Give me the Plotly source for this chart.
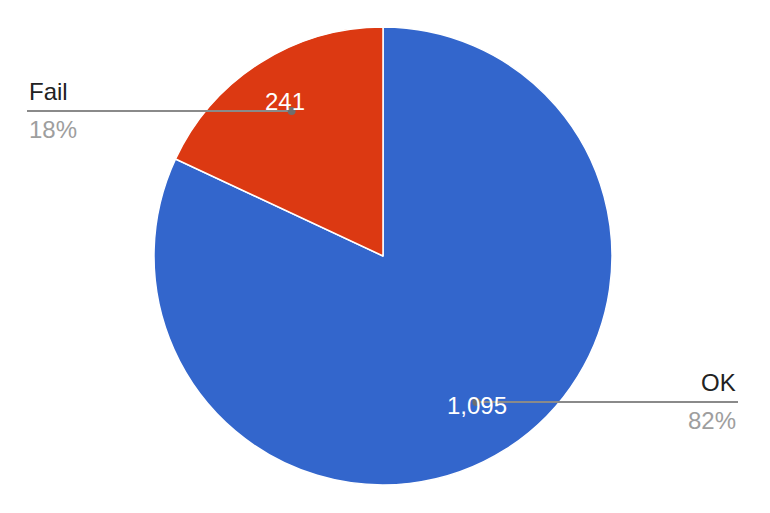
import math
import plotly.graph_objects as go

labels = ["OK", "Fail"]
values = [1095, 241]
colors = ["#3366CC", "#DC3912"]

W, H = 770, 513
cx, cy, r = 383, 256, 229

fig = go.Figure(go.Pie(
    labels=labels, values=values, sort=False, direction="clockwise",
    marker=dict(colors=colors, line=dict(color="white", width=1.5)),
    textinfo="none", hoverinfo="label+value+percent",
    domain=dict(x=[(cx - r) / W, (cx + r) / W], y=[1 - (cy + r) / H, 1 - (cy - r) / H]),
))

total = sum(values)
# leader line y (px), side of the outer label, and inner text nudge (px)
line_y = {"OK": 402, "Fail": 111}
side = {"OK": "right", "Fail": "left"}
nudge = {"OK": (-4, -5), "Fail": (0, 0)}

start = 0.0
annotations, shapes = [], []
for lab, val in zip(labels, values):
    frac = val / total
    mid = (start + frac / 2) * 2 * math.pi  # clockwise from 12 o'clock
    start += frac
    ax = cx + 0.8 * r * math.sin(mid)
    ay = cy - 0.8 * r * math.cos(mid)
    ly = line_y[lab]
    dot_x = ax + (7 if lab == "Fail" else -5)
    edge = 27 if side[lab] == "left" else 738
    shapes.append(dict(type="line", xref="paper", yref="paper",
                       x0=dot_x / W, x1=edge / W, y0=1 - ly / H, y1=1 - ly / H,
                       line=dict(color="#8a8a8a", width=2)))
    shapes.append(dict(type="circle", xref="paper", yref="paper",
                       x0=(dot_x - 4) / W, x1=(dot_x + 4) / W,
                       y0=1 - (ly + 4) / H, y1=1 - (ly - 4) / H,
                       fillcolor="#6e6e6e", line=dict(width=0)))
    # value inside slice
    nx, ny = nudge[lab]
    annotations.append(dict(x=(ax + nx) / W, y=1 - (ay + ny) / H, xref="paper", yref="paper",
                            text=f"{val:,}", showarrow=False,
                            xanchor="center", yanchor="middle",
                            font=dict(family="Liberation Sans, Arial", size=24, color="white")))
    xa = "left" if side[lab] == "left" else "right"
    annotations.append(dict(x=edge / W, y=1 - (ly - 4) / H, xref="paper", yref="paper",
                            text=lab, showarrow=False, xanchor=xa, yanchor="bottom",
                            font=dict(family="Liberation Sans, Arial", size=24, color="#222222")))
    annotations.append(dict(x=edge / W, y=1 - (ly + 3) / H, xref="paper", yref="paper",
                            text=f"{round(frac * 100)}%", showarrow=False, xanchor=xa, yanchor="top",
                            font=dict(family="Liberation Sans, Arial", size=24, color="#9e9e9e")))

fig.update_layout(width=W, height=H, margin=dict(l=0, r=0, t=0, b=0),
                  showlegend=False, paper_bgcolor="white",
                  annotations=annotations, shapes=shapes)
fig.write_html("out.html", config={"displayModeBar": False},
               post_script="document.body.style.margin='0';")
